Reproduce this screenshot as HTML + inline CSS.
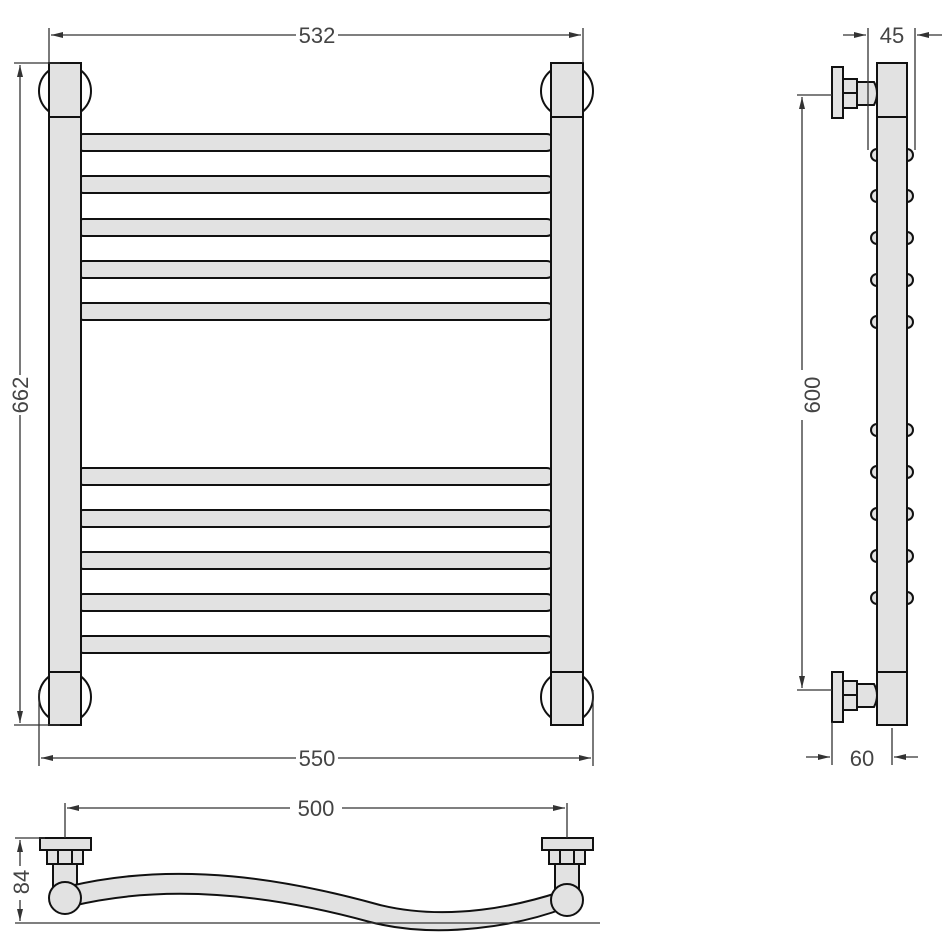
<!DOCTYPE html>
<html><head><meta charset="utf-8"><style>html,body{margin:0;padding:0;background:#fff}svg{display:block}</style></head><body>
<svg width="951" height="950" viewBox="0 0 951 950" xmlns="http://www.w3.org/2000/svg">
<defs>
<marker id="a" markerWidth="12" markerHeight="8" refX="12" refY="4" orient="auto" markerUnits="userSpaceOnUse"><path d="M0,1 L12,4 L0,7 z" fill="#333"/></marker>
</defs>
<g font-family="Liberation Sans, sans-serif" font-size="22" fill="#444" text-anchor="middle">
<!-- front view circles -->
<g fill="#fff" stroke="#111" stroke-width="2">
<circle cx="65" cy="91" r="26"/><circle cx="567" cy="91" r="26"/>
<circle cx="65" cy="697" r="26"/><circle cx="567" cy="697" r="26"/>
</g>
<!-- bars -->
<g fill="#e2e2e2" stroke="#111" stroke-width="2">
<rect x="75" y="134" width="480" height="17" rx="8.5"/>
<rect x="75" y="176" width="480" height="17" rx="8.5"/>
<rect x="75" y="219" width="480" height="17" rx="8.5"/>
<rect x="75" y="261" width="480" height="17" rx="8.5"/>
<rect x="75" y="303" width="480" height="17" rx="8.5"/>
<rect x="75" y="468" width="480" height="17" rx="8.5"/>
<rect x="75" y="510" width="480" height="17" rx="8.5"/>
<rect x="75" y="552" width="480" height="17" rx="8.5"/>
<rect x="75" y="594" width="480" height="17" rx="8.5"/>
<rect x="75" y="636" width="480" height="17" rx="8.5"/>
<!-- posts -->
<rect x="49" y="63" width="32" height="662"/>
<rect x="551" y="63" width="32" height="662"/>
<line x1="49" y1="117" x2="81" y2="117"/><line x1="551" y1="117" x2="583" y2="117"/>
<line x1="49" y1="672" x2="81" y2="672"/><line x1="551" y1="672" x2="583" y2="672"/>
</g>
<!-- dims front -->
<g stroke="#333" stroke-width="1.3" fill="none">
<line x1="49" y1="28" x2="49" y2="63"/><line x1="583" y1="28" x2="583" y2="63"/>
<line x1="296" y1="35" x2="51" y2="35" marker-end="url(#a)"/><line x1="338" y1="35" x2="581" y2="35" marker-end="url(#a)"/>
<line x1="14" y1="63" x2="60" y2="63"/><line x1="14" y1="725" x2="60" y2="725"/>
<line x1="20" y1="375" x2="20" y2="65" marker-end="url(#a)"/><line x1="20" y1="415" x2="20" y2="723" marker-end="url(#a)"/>
<line x1="39" y1="690" x2="39" y2="766"/><line x1="593" y1="690" x2="593" y2="766"/>
<line x1="296" y1="758" x2="41" y2="758" marker-end="url(#a)"/><line x1="338" y1="758" x2="591" y2="758" marker-end="url(#a)"/>
</g>
<text x="317" y="43">532</text>
<text x="317" y="766">550</text>
<text transform="translate(28,395) rotate(-90)">662</text>
<!-- side view -->
<g fill="#e2e2e2" stroke="#111" stroke-width="2">
<g id="bumps">
<circle cx="877" cy="155" r="6"/><circle cx="907" cy="155" r="6"/>
<circle cx="877" cy="196" r="6"/><circle cx="907" cy="196" r="6"/>
<circle cx="877" cy="238" r="6"/><circle cx="907" cy="238" r="6"/>
<circle cx="877" cy="280" r="6"/><circle cx="907" cy="280" r="6"/>
<circle cx="877" cy="322" r="6"/><circle cx="907" cy="322" r="6"/>
<circle cx="877" cy="430" r="6"/><circle cx="907" cy="430" r="6"/>
<circle cx="877" cy="472" r="6"/><circle cx="907" cy="472" r="6"/>
<circle cx="877" cy="514" r="6"/><circle cx="907" cy="514" r="6"/>
<circle cx="877" cy="556" r="6"/><circle cx="907" cy="556" r="6"/>
<circle cx="877" cy="598" r="6"/><circle cx="907" cy="598" r="6"/>
</g>
<rect x="877" y="63" width="30" height="662"/>
<line x1="877" y1="117" x2="907" y2="117"/><line x1="877" y1="672" x2="907" y2="672"/>
<path d="M857,82 H874 Q880,93 874,105 H857 Z"/>
<rect x="843" y="79" width="14" height="14"/><rect x="843" y="93" width="14" height="15"/>
<rect x="832" y="67" width="11" height="51"/>
<path d="M857,684 H874 Q880,695 874,707 H857 Z"/>
<rect x="843" y="681" width="14" height="14"/><rect x="843" y="695" width="14" height="15"/>
<rect x="832" y="672" width="11" height="50"/>
</g>
<g stroke="#333" stroke-width="1.3" fill="none">
<line x1="868" y1="28" x2="868" y2="150"/><line x1="915" y1="28" x2="915" y2="150"/>
<line x1="843" y1="35" x2="866" y2="35" marker-end="url(#a)"/><line x1="942" y1="35" x2="917" y2="35" marker-end="url(#a)"/>
<line x1="797" y1="95" x2="832" y2="95"/><line x1="797" y1="690" x2="832" y2="690"/>
<line x1="802" y1="370" x2="802" y2="97" marker-end="url(#a)"/><line x1="802" y1="420" x2="802" y2="688" marker-end="url(#a)"/>
<line x1="832" y1="722" x2="832" y2="765"/><line x1="892" y1="728" x2="892" y2="765"/>
<line x1="806" y1="757" x2="830" y2="757" marker-end="url(#a)"/><line x1="918" y1="757" x2="894" y2="757" marker-end="url(#a)"/>
</g>
<text x="892" y="43">45</text>
<text x="862" y="766">60</text>
<text transform="translate(820,395) rotate(-90)">600</text>
<!-- bottom view -->
<g fill="#e2e2e2" stroke="#111" stroke-width="2">
<rect x="53" y="862" width="24" height="30"/>
<rect x="555" y="862" width="24" height="30"/>
<path d="M70,886 C180,860 290,880 380,905 C450,922 520,905 560,892 L565,908 C520,925 440,940 370,922 C290,900 180,880 72,906 Z"/>
<rect x="47" y="850" width="36" height="14"/><line x1="58" y1="850" x2="58" y2="864"/><line x1="72" y1="850" x2="72" y2="864"/>
<rect x="549" y="850" width="36" height="14"/><line x1="560" y1="850" x2="560" y2="864"/><line x1="574" y1="850" x2="574" y2="864"/>
<rect x="40" y="838" width="51" height="12"/>
<rect x="542" y="838" width="51" height="12"/>
<circle cx="65" cy="898" r="16"/>
<circle cx="567" cy="900" r="16"/>
</g>
<g stroke="#333" stroke-width="1.3" fill="none">
<line x1="65" y1="803" x2="65" y2="838"/><line x1="567" y1="803" x2="567" y2="838"/>
<line x1="290" y1="808" x2="67" y2="808" marker-end="url(#a)"/><line x1="342" y1="808" x2="565" y2="808" marker-end="url(#a)"/>
<line x1="15" y1="838" x2="45" y2="838"/><line x1="15" y1="923" x2="600" y2="923"/>
<line x1="20" y1="866" x2="20" y2="840" marker-end="url(#a)"/><line x1="20" y1="900" x2="20" y2="921" marker-end="url(#a)"/>
</g>
<text x="316" y="816">500</text>
<text transform="translate(29,882) rotate(-90)">84</text>
</g>
</svg>
</body></html>
